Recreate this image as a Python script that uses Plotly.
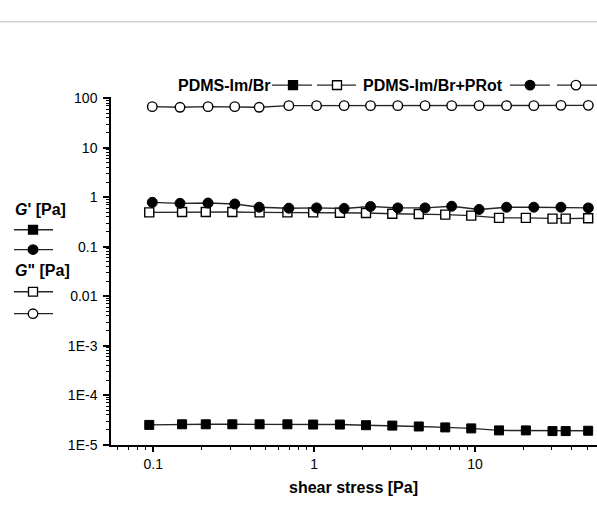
import math
import plotly.graph_objects as go

# ---------------- data ----------------
stress_br = [0.0944, 0.151, 0.212, 0.310, 0.458, 0.682, 0.986, 1.446, 2.10, 3.06,
             4.47, 6.53, 9.47, 14.1, 20.7, 30.3, 36.6, 50.5]
gp_br = [2.51e-5, 2.58e-5, 2.58e-5, 2.58e-5, 2.58e-5, 2.58e-5, 2.55e-5, 2.55e-5, 2.47e-5,
         2.43e-5, 2.33e-5, 2.23e-5, 2.13e-5, 1.94e-5, 1.94e-5, 1.88e-5, 1.88e-5, 1.91e-5]
gpp_br = [0.494, 0.501, 0.501, 0.501, 0.494, 0.494, 0.494, 0.486, 0.479, 0.464,
          0.458, 0.444, 0.424, 0.382, 0.382, 0.370, 0.370, 0.377]

stress_prot = [0.0986, 0.1466, 0.219, 0.321, 0.455, 0.696, 1.035, 1.536, 2.24, 3.31,
               4.89, 7.16, 10.6, 15.7, 23.2, 34.2, 50.6]
gp_prot = [0.787, 0.752, 0.762, 0.729, 0.628, 0.600, 0.608, 0.593, 0.648, 0.608,
           0.608, 0.657, 0.566, 0.628, 0.628, 0.628, 0.608]
gpp_prot = [67.6, 65.6, 67.6, 67.6, 65.6, 70.8, 70.8, 70.8, 70.8, 70.8,
            70.8, 70.8, 70.8, 70.8, 70.8, 71.8, 71.8]

y_tickvals = [1e-5, 1e-4, 1e-3, 1e-2, 1e-1, 1, 10, 100]
y_ticktext = ["1E-5", "1E-4", "1E-3", "0.01", "0.1", "1", "10", "100"]
x_tickvals = [0.1, 1, 10]
x_ticktext = ["0.1", "1", "10"]

series_br_label = "PDMS-Im/Br"
series_prot_label = "PDMS-Im/Br+PRot"
gp_label = "<b><i>G</i>' [Pa]</b>"
gpp_label = "<b><i>G</i>\" [Pa]</b>"
x_title = "<b>shear stress [Pa]</b>"

# ---------------- layout helpers ----------------
W, H = 597, 507
FONT = "Liberation Sans, Arial, sans-serif"
LINE_COL = "#262626"


def px_x(p):
    return p / W


def px_y(p):
    return 1 - p / H


x_dom = [111 / W, 1.0]
y_dom = [px_y(451), px_y(93)]

minor_x = [m * 10 ** e for e in range(-2, 2) for m in range(2, 10)]
minor_y = [m * 10 ** e for e in range(-5, 2) for m in range(2, 10)]

fig = go.Figure()

marker_defs = {
    "sq_fill": dict(symbol="square", color="black", size=9, line=dict(color="black", width=1)),
    "sq_open": dict(symbol="square", color="white", size=9, line=dict(color="black", width=1.4)),
    "ci_fill": dict(symbol="circle", color="black", size=10, line=dict(color="black", width=1)),
    "ci_open": dict(symbol="circle", color="white", size=9.5, line=dict(color="black", width=1.4)),
}


def add_series(x, y, mk):
    fig.add_trace(go.Scatter(x=x, y=y, mode="lines+markers",
                             line=dict(color=LINE_COL, width=1.4),
                             marker=marker_defs[mk], showlegend=False,
                             cliponaxis=False))


add_series(stress_br, gp_br, "sq_fill")
add_series(stress_br, gpp_br, "sq_open")
add_series(stress_prot, gp_prot, "ci_fill")
add_series(stress_prot, gpp_prot, "ci_open")


# legend glyphs as paper shapes (pixel positions converted to paper coords)
def glyph(x0, x1, xm, y, kind, filled):
    fig.add_shape(type="line", xref="paper", yref="paper",
                  x0=px_x(x0), x1=px_x(x1), y0=px_y(y), y1=px_y(y),
                  line=dict(color=LINE_COL, width=1.4))
    r = 4.5 if kind == "rect" else 4.8
    fig.add_shape(type=kind, xref="paper", yref="paper",
                  x0=px_x(xm - r), x1=px_x(xm + r),
                  y0=px_y(y + r), y1=px_y(y - r),
                  fillcolor="black" if filled else "white",
                  line=dict(color="black", width=1.3))


# top legend
glyph(272, 312, 293, 80.5, "rect", True)
glyph(317, 356, 337, 80.5, "rect", False)
glyph(510, 550, 530, 80.5, "circle", True)
glyph(557, 597, 576, 80.5, "circle", False)
# left legend
glyph(14, 53, 33, 229.5, "rect", True)
glyph(14, 53, 33, 250, "circle", True)
glyph(14, 53, 33, 293.5, "rect", False)
glyph(14, 53, 33, 316, "circle", False)

axis_common = dict(
    showline=True, linecolor="black", linewidth=1.5,
    ticks="outside", ticklen=6, tickwidth=1.5, tickcolor="black",
    showgrid=False, zeroline=False, mirror=False,
    tickfont=dict(family=FONT, size=14, color="black"),
)

fig.update_layout(
    width=W, height=H, autosize=False,
    margin=dict(l=0, r=0, t=0, b=0, pad=0),
    paper_bgcolor="white", plot_bgcolor="rgba(0,0,0,0)",
    font=dict(family=FONT, color="black"),
    xaxis=dict(type="log", domain=x_dom,
               range=[math.log10(0.0546), math.log10(57.3)],
               tickmode="array", tickvals=x_tickvals, ticktext=x_ticktext,
               minor=dict(tickmode="array", tickvals=minor_x, ticks="outside",
                          ticklen=3.5, tickwidth=1.3, tickcolor="black"),
               **axis_common),
    yaxis=dict(type="log", domain=y_dom, range=[-5, 2.02],
               tickmode="array", tickvals=y_tickvals, ticktext=y_ticktext,
               minor=dict(tickmode="array", tickvals=minor_y, ticks="outside",
                          ticklen=3.5, tickwidth=1.3, tickcolor="black"),
               ticklabelstandoff=3, **axis_common),
    showlegend=False,
)

# thin gray rule at top of page
fig.add_shape(type="line", xref="paper", yref="paper", x0=0, x1=1,
              y0=px_y(15.3), y1=px_y(15.3), layer="above",
              line=dict(color="#d2d2d2", width=1.5))

ann_font = dict(family=FONT, size=16, color="black")
fig.add_annotation(text="<b>%s</b>" % series_br_label, xref="paper", yref="paper",
                   x=px_x(272), y=px_y(80.5), xanchor="right", yanchor="middle",
                   showarrow=False, font=ann_font)
fig.add_annotation(text="<b>%s</b>" % series_prot_label, xref="paper", yref="paper",
                   x=px_x(361), y=px_y(80.5), xanchor="left", yanchor="middle",
                   showarrow=False, font=ann_font)
fig.add_annotation(text=gp_label, xref="paper", yref="paper",
                   x=px_x(13), y=px_y(208.5), xanchor="left", yanchor="middle",
                   showarrow=False, font=ann_font)
fig.add_annotation(text=gpp_label, xref="paper", yref="paper",
                   x=px_x(13), y=px_y(271.5), xanchor="left", yanchor="middle",
                   showarrow=False, font=ann_font)
fig.add_annotation(text=x_title, xref="paper", yref="paper",
                   x=px_x(353), y=px_y(495.5), xanchor="center", yanchor="middle",
                   showarrow=False, font=ann_font)

fig.write_html("out.html",
               config={"displayModeBar": False},
               post_script="document.body.style.margin='0px';"
                           "document.body.style.overflow='hidden';")
